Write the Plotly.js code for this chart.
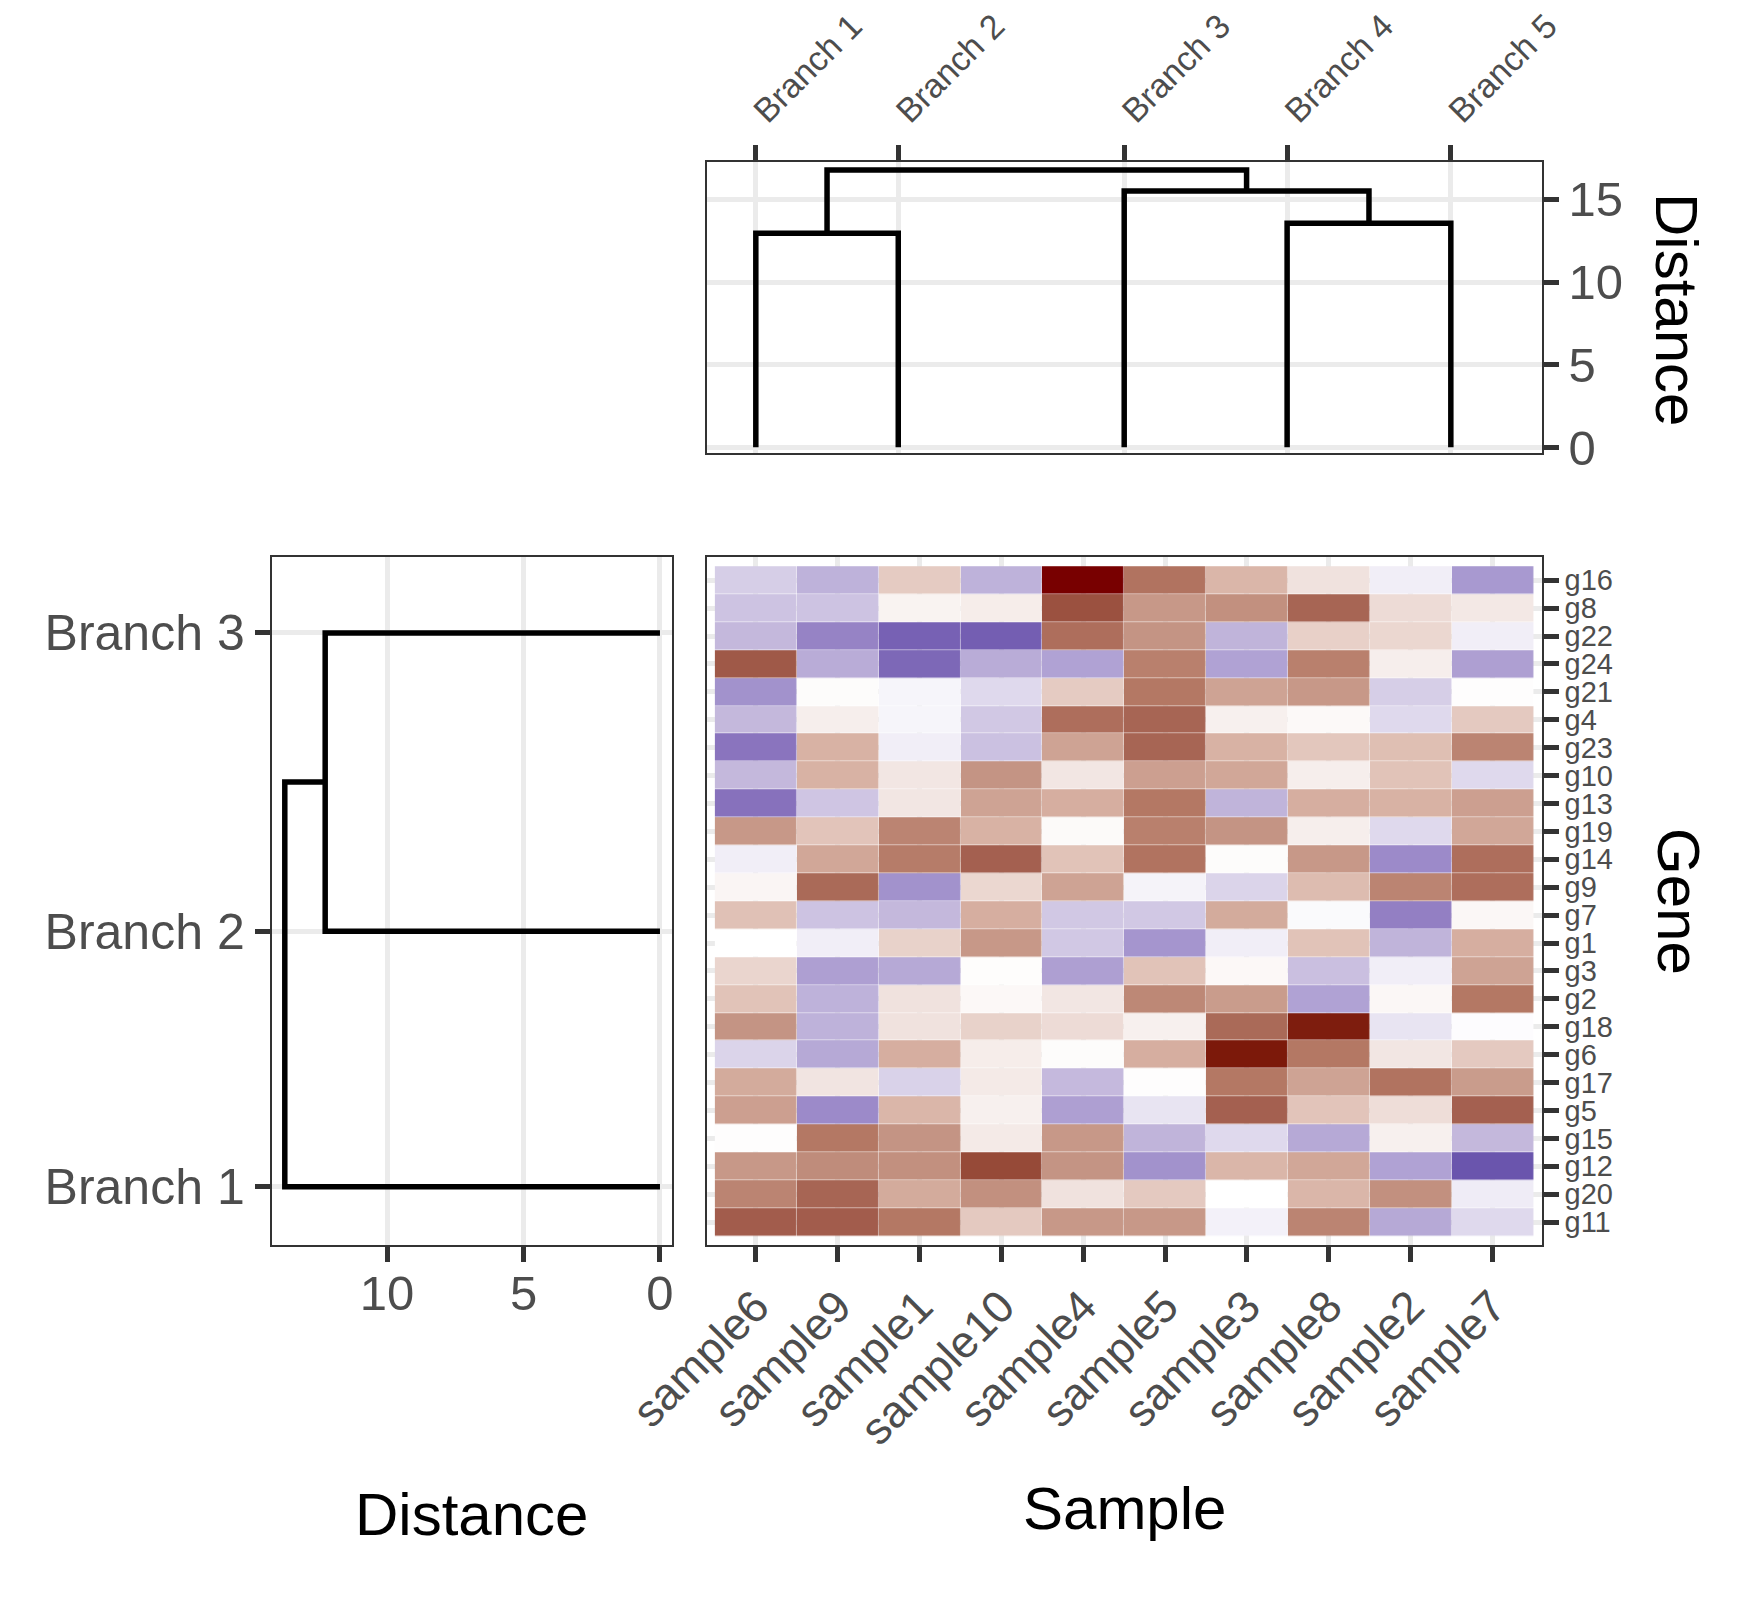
<!DOCTYPE html>
<html>
<head>
<meta charset="utf-8">
<script src="https://cdn.plot.ly/plotly-3.0.1.min.js"></script>
<style>
  html, body { margin: 0; padding: 0; background: #ffffff; }
  #chart { width: 1755px; height: 1600px; }
</style>
</head>
<body>
<div id="chart"></div>
<script>
// ---------------- DATA ----------------
const samples = ["sample6","sample9","sample1","sample10","sample4","sample5","sample3","sample8","sample2","sample7"];
const genes = ["g16","g8","g22","g24","g21","g4","g23","g10","g13","g19","g14","g9","g7","g1","g3","g2","g18","g6","g17","g5","g15","g12","g20","g11"];

// expression values, rows follow `genes` (top to bottom), columns follow `samples`
const zValues = [
  [-0.70,-1.10, 0.70,-1.10, 3.00, 1.80, 0.95, 0.35,-0.25,-1.50], // g16
  [-0.85,-0.85, 0.15, 0.22, 2.20, 1.35, 1.45, 1.95, 0.45, 0.28], // g8
  [-1.00,-1.80,-2.30,-2.35, 1.85, 1.40,-1.07, 0.62, 0.52,-0.25], // g22
  [ 2.10,-1.20,-2.20,-1.20,-1.35, 1.65,-1.35, 1.65, 0.20,-1.40], // g24
  [-1.60, 0.04,-0.15,-0.55, 0.70, 1.75, 1.20, 1.35,-0.70, 0.02], // g21
  [-1.00, 0.20,-0.15,-0.78, 1.85, 1.95, 0.18, 0.07,-0.55, 0.72], // g4
  [-2.00, 1.00,-0.25,-0.88, 1.20, 1.95, 1.00, 0.75, 0.85, 1.60], // g23
  [-1.00, 1.00, 0.30, 1.40, 0.30, 1.25, 1.15, 0.20, 0.80,-0.55], // g10
  [-2.05,-0.82, 0.30, 1.20, 1.05, 1.75,-1.07, 1.05, 1.00, 1.25], // g13
  [ 1.35, 0.78, 1.60, 1.00, 0.06, 1.65, 1.40, 0.20,-0.55, 1.15], // g19
  [-0.25, 1.15, 1.70, 2.00, 0.80, 1.80, 0.04, 1.35,-1.70, 1.85], // g14
  [ 0.12, 1.90,-1.60, 0.52, 1.20,-0.18,-0.62, 0.88, 1.60, 1.85], // g9
  [ 0.82,-0.85,-1.00, 1.05,-0.78,-0.78, 1.10,-0.08,-1.85, 0.10], // g7
  [ 0.00,-0.25, 0.60, 1.35,-0.78,-1.55,-0.25, 0.80,-1.07, 1.05], // g1
  [ 0.55,-1.40,-1.25, 0.03,-1.40, 0.80, 0.08,-0.90,-0.25, 1.20], // g3
  [ 0.80,-1.10, 0.35, 0.08, 0.30, 1.55, 1.30,-1.35, 0.10, 1.75], // g2
  [ 1.40,-1.10, 0.35, 0.60, 0.45, 0.18, 1.90, 2.85,-0.40,-0.04], // g18
  [-0.62,-1.25, 1.05, 0.22, 0.04, 1.05, 2.90, 1.75, 0.30, 0.72], // g6
  [ 1.10, 0.32,-0.65, 0.25,-0.98, 0.02, 1.75, 1.20, 1.80, 1.30], // g17
  [ 1.25,-1.70, 0.95, 0.18,-1.40,-0.40, 2.00, 0.78, 0.42, 2.00], // g5
  [ 0.02, 1.75, 1.40, 0.25, 1.35,-1.07,-0.55,-1.25, 0.18,-1.00], // g15
  [ 1.35, 1.50, 1.45, 2.30, 1.40,-1.60, 0.95, 1.15,-1.35,-2.50], // g12
  [ 1.60, 1.95, 1.10, 1.45, 0.35, 0.72, 0.00, 0.95, 1.45,-0.28], // g20
  [ 2.05, 2.05, 1.75, 0.72, 1.35, 1.35,-0.20, 1.60,-1.25,-0.55]  // g11
];

// top dendrogram (columns)
const topBranchLabels = ["Branch 1","Branch 2","Branch 3","Branch 4","Branch 5"];
const topBranchPos = [0, 1.74, 4.50, 6.49, 8.49];
const topMergeLeft = [0, 3, 2, 5];
const topMergeRight = [1, 4, 6, 7];
const topMergeHeight = [12.95, 13.55, 15.50, 16.78];
const topDistTicks = [0, 5, 10, 15];

// left dendrogram (rows)
const leftBranchLabels = ["Branch 1","Branch 2","Branch 3"];
const leftBranchPos = [1.27, 10.42, 21.11];
const leftMergeLeft = [1, 0];
const leftMergeRight = [2, 3];
const leftMergeHeight = [12.27, 13.75];
const leftDistTicks = [0, 5, 10];

// colour scale anchors (value -> colour)
const scaleValues = [-3.0, -2.5, -2.0, -1.5, -1.0, -0.5, 0, 0.35, 0.7, 1.0, 1.4, 1.75, 2.0, 2.3, 2.6, 2.9, 3.0];
const scaleColors = ["#4f3898","#6a55ad","#8a74be","#a899d0","#c4b8dc","#e2ddef","#ffffff",
                     "#f0e2de","#e5cbc2","#d8b2a4","#c49484","#b47864","#a46050","#964a38","#8a3020","#7c190a","#780000"];

// ---------------- HELPERS ----------------
function dendro(leafPos, mL, mR, mH) {
  const pos = leafPos.slice();
  const h = leafPos.map(() => 0);
  const p = [], d = [];
  for (let k = 0; k < mL.length; k++) {
    const l = mL[k], r = mR[k], H = mH[k];
    p.push(pos[l], pos[l], pos[r], pos[r], null);
    d.push(h[l], H, H, h[r], null);
    pos.push((pos[l] + pos[r]) / 2);
    h.push(H);
  }
  return { p, d };
}

const zmin = scaleValues[0], zmax = scaleValues[scaleValues.length - 1];
const colorscale = scaleValues.map((v, i) => [(v - zmin) / (zmax - zmin), scaleColors[i]]);

const topD = dendro(topBranchPos, topMergeLeft, topMergeRight, topMergeHeight);
const leftD = dendro(leftBranchPos, leftMergeLeft, leftMergeRight, leftMergeHeight);

// ---------------- STYLE ----------------
const W = 1755, H = 1600;
const FONT = "Liberation Sans, Arial, Helvetica, sans-serif";
const TICKC = "#4d4d4d";
const GRID = "#ebebeb";
const px = v => v / W;
const py = v => 1 - v / H;

const hmX = [px(706.7), px(1541.7)];
const hmY = [py(1245), py(557.3)];
const topY = [py(453.3), py(162.3)];
const leftX = [px(271.7), px(671.7)];

const common = {
  showgrid: true, gridcolor: GRID, gridwidth: 5,
  zeroline: false,
  ticks: "outside", ticklen: 15, tickwidth: 5, tickcolor: "#333333",
  showline: true, mirror: true, linecolor: "#333333", linewidth: 2,
  fixedrange: true
};

const traces = [
  {
    type: "heatmap", x: samples, y: genes, z: zValues,
    colorscale: colorscale, zmin: zmin, zmax: zmax, showscale: false,
    xgap: 0.5, ygap: 0.5, xaxis: "x", yaxis: "y", hoverinfo: "x+y+z"
  },
  {
    type: "scatter", mode: "lines", x: topD.p, y: topD.d,
    line: { color: "#000000", width: 5.5 }, xaxis: "x2", yaxis: "y2",
    hoverinfo: "skip", showlegend: false
  },
  {
    type: "scatter", mode: "lines", x: leftD.d, y: leftD.p,
    line: { color: "#000000", width: 5.5 }, xaxis: "x3", yaxis: "y3",
    hoverinfo: "skip", showlegend: false
  }
];

const layout = {
  width: W, height: H,
  margin: { l: 0, r: 0, t: 0, b: 0, pad: 0 },
  paper_bgcolor: "#ffffff", plot_bgcolor: "#ffffff",
  showlegend: false,
  font: { family: FONT, color: TICKC },
  xaxis: Object.assign({}, common, {
    domain: hmX, anchor: "y", type: "category", categoryorder: "array", categoryarray: samples,
    tickmode: "array", tickvals: samples, ticktext: samples,
    range: [-0.6, 9.6], tickangle: -45, side: "bottom",
    tickfont: { family: FONT, size: 45, color: TICKC }, ticklabelstandoff: 0
  }),
  yaxis: Object.assign({}, common, {
    domain: hmY, anchor: "x", type: "category", categoryorder: "array", categoryarray: genes,
    tickmode: "array", tickvals: genes, ticktext: genes,
    range: [23.82, -0.82], side: "right",
    tickfont: { family: FONT, size: 29, color: TICKC }
  }),
  xaxis2: Object.assign({}, common, {
    domain: hmX, anchor: "y2", range: [-0.6, 9.6], side: "top",
    tickvals: topBranchPos, ticktext: topBranchLabels, tickangle: -45,
    tickfont: { family: FONT, size: 34, color: TICKC }, ticklabelstandoff: 2
  }),
  yaxis2: Object.assign({}, common, {
    domain: topY, anchor: "x2", range: [-0.36, 17.24], side: "right",
    tickvals: topDistTicks, ticktext: topDistTicks.map(String),
    tickfont: { family: FONT, size: 49, color: TICKC }, ticklabelstandoff: 0
  }),
  xaxis3: Object.assign({}, common, {
    domain: leftX, anchor: "y3", range: [14.23, -0.43], side: "bottom",
    tickvals: leftDistTicks, ticktext: leftDistTicks.map(String),
    tickfont: { family: FONT, size: 49, color: TICKC }, ticklabelstandoff: -11
  }),
  yaxis3: Object.assign({}, common, {
    domain: hmY, anchor: "x3", range: [-0.82, 23.82], side: "left",
    tickvals: leftBranchPos, ticktext: leftBranchLabels,
    tickfont: { family: FONT, size: 50, color: TICKC }
  }),
  annotations: [
    { text: "Sample", xref: "paper", yref: "paper", x: px(1124), y: py(1508),
      xanchor: "center", yanchor: "middle", showarrow: false,
      font: { family: FONT, size: 60, color: "#000000" } },
    { text: "Distance", xref: "paper", yref: "paper", x: px(471), y: py(1514),
      xanchor: "center", yanchor: "middle", showarrow: false,
      font: { family: FONT, size: 60, color: "#000000" } },
    { text: "Distance", xref: "paper", yref: "paper", x: px(1677), y: py(309),
      xanchor: "center", yanchor: "middle", showarrow: false, textangle: 90,
      font: { family: FONT, size: 60, color: "#000000" } },
    { text: "Gene", xref: "paper", yref: "paper", x: px(1679), y: py(901),
      xanchor: "center", yanchor: "middle", showarrow: false, textangle: 90,
      font: { family: FONT, size: 60, color: "#000000" } }
  ]
};

Plotly.newPlot("chart", traces, layout, { displayModeBar: false, staticPlot: true });
</script>
</body>
</html>
